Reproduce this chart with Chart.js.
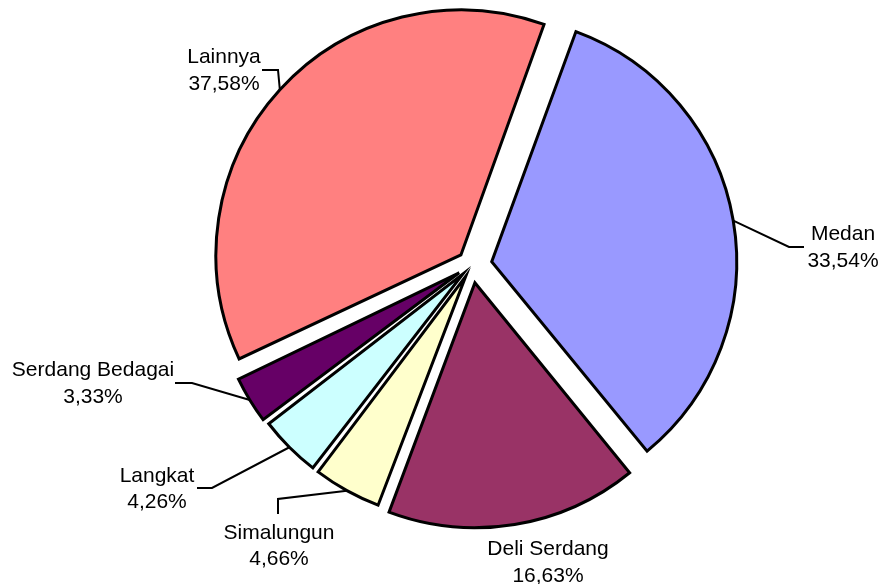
<!DOCTYPE html>
<html>
<head>
<meta charset="utf-8">
<script src="https://cdn.jsdelivr.net/npm/chart.js@4"></script>
<style>
  body { margin: 0; background: #fff; }
  #wrap { width: 880px; height: 584px; position: relative; }
</style>
</head>
<body>
<div id="wrap"><canvas id="myChart"></canvas></div>
<script>
const labels = ['Medan', 'Deli Serdang', 'Simalungun', 'Langkat', 'Serdang Bedagai', 'Lainnya'];
const shares = [33.54, 16.63, 4.66, 4.26, 3.33, 37.58];
const colors = ['#9999ff', '#993366', '#ffffcc', '#ccffff', '#660066', '#ff8080'];
const explode = [80, 72, 52, 52, 60, 60];

const R = 245;

// where each label sits: leader line bend points and text centre / baselines
const labelPos = [
  { pts: [[789, 247], [804, 247]], x: 843, y: [240, 267] },
  { pts: [], x: 548, y: [555, 582] },
  { pts: [[278, 499], [278, 514]], x: 279, y: [539, 565] },
  { pts: [[212, 488], [197, 488]], x: 157, y: [482, 508] },
  { pts: [[192, 383], [175, 383]], x: 93, y: [376, 403] },
  { pts: [[278, 70], [262, 70]], x: 224, y: [63, 90] }
];

// keep exploded slices at the same radius (chart.js grows small ones a bit)
const fixRadius = {
  id: 'fixRadius',
  beforeDatasetsDraw(chart) {
    chart.getDatasetMeta(0).data.forEach(arc => {
      const t = (arc.options.offset || 0) / 4;
      const circ = arc.endAngle - arc.startAngle;
      const fix = 1 - Math.sin(Math.min(Math.PI, circ));
      arc.outerRadius = R - t * fix;
    });
  }
};

const sliceLabels = {
  id: 'sliceLabels',
  afterDatasetsDraw(chart) {
    const ctx = chart.ctx;
    ctx.save();
    ctx.strokeStyle = '#000';
    ctx.lineWidth = 2;
    ctx.fillStyle = '#000';
    ctx.font = '21px "Liberation Sans", Arial, sans-serif';
    ctx.textAlign = 'center';
    ctx.textBaseline = 'alphabetic';
    chart.getDatasetMeta(0).data.forEach((arc, i) => {
      const p = labelPos[i];
      const t = (arc.options.offset || 0) / 4;
      const h = (arc.startAngle + arc.endAngle) / 2;
      const ex = arc.x + Math.cos(h) * (t + R);
      const ey = arc.y + Math.sin(h) * (t + R);
      if (p.pts.length) {
        ctx.beginPath();
        ctx.moveTo(ex, ey);
        p.pts.forEach(q => ctx.lineTo(q[0], q[1]));
        ctx.stroke();
      }
      ctx.fillText(labels[i], p.x, p.y[0]);
      ctx.fillText(shares[i].toFixed(2).replace('.', ',') + '%', p.x, p.y[1]);
    });
    ctx.restore();
  }
};

new Chart(document.getElementById('myChart'), {
  type: 'pie',
  data: {
    labels: labels,
    datasets: [{
      data: shares,
      backgroundColor: colors,
      borderColor: '#000',
      borderWidth: 3,
      borderJoinStyle: 'miter',
      offset: explode
    }]
  },
  options: {
    responsive: true,
    maintainAspectRatio: false,
    animation: false,
    rotation: 20,
    radius: R,
    layout: { padding: { left: 64, right: 0, top: 0, bottom: 54 } },
    plugins: {
      legend: { display: false },
      tooltip: { enabled: false }
    }
  },
  plugins: [fixRadius, sliceLabels]
});
</script>
</body>
</html>
